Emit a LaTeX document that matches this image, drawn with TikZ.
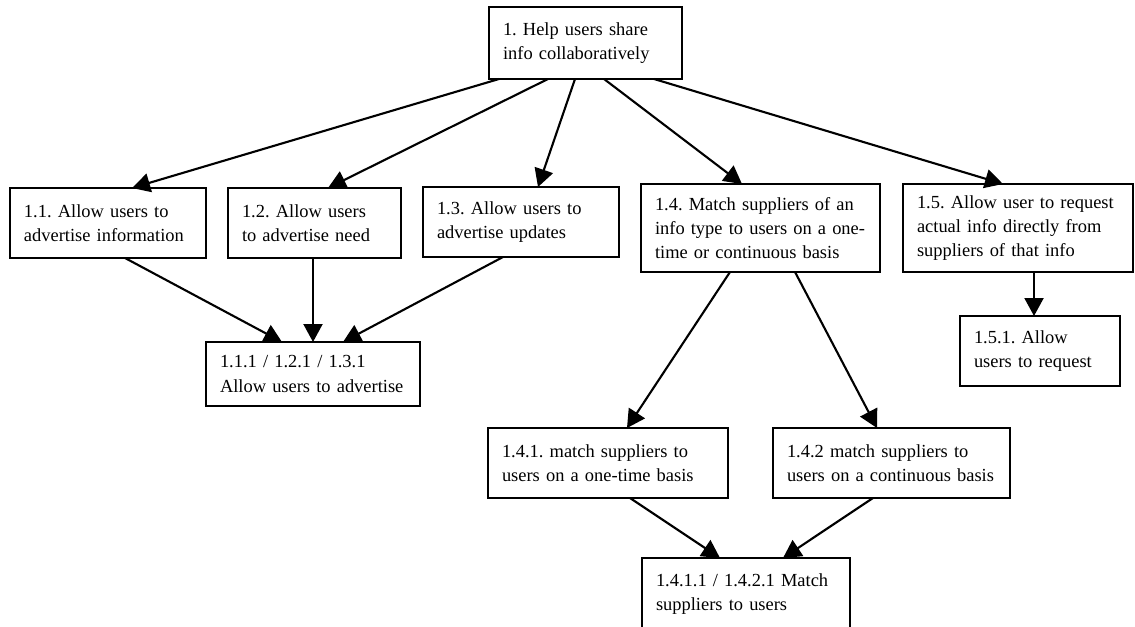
\documentclass[tikz,border=0pt]{standalone}
\usepackage{fontspec}
\setmainfont{Liberation Serif}
\usepackage{tikz}
\usetikzlibrary{arrows.meta, calc}
\frenchspacing

\begin{document}
\begin{tikzpicture}[x=0.02cm, y=-0.02cm, >={Triangle[length=0.36cm, width=0.38cm]}, line width=1.2pt,
    box/.style={draw, anchor=north west, align=left, outer sep=0pt, inner xsep=0.28cm, inner ysep=0pt,
      font=\fontsize{10.5}{13.8}\selectfont}]
    \useasboundingbox (0,0) rectangle (1135,626);
    \fill[white] (0,0) rectangle (1135,626);
    \clip (0,0) rectangle (1135,626);

    \node[box, minimum width=3.86cm, minimum height=1.44cm, text width=3.30cm] (top) at (489,7)
      {1. Help users share\\info collaboratively};

    \node[box, minimum width=3.92cm, minimum height=1.40cm, text width=3.36cm] (a11) at (10,188)
      {1.1. Allow users to\\advertise information};
    \node[box, minimum width=3.46cm, minimum height=1.40cm, text width=2.90cm] (a12) at (228,188)
      {1.2. Allow users\\to advertise need};
    \node[box, minimum width=3.92cm, minimum height=1.40cm, text width=3.36cm] (a13) at (423,187)
      {1.3. Allow users to\\advertise updates};
    \node[box, minimum width=4.78cm, minimum height=1.76cm, text width=4.22cm] (a14) at (641,184)
      {1.4. Match suppliers of an\\info type to users on a one-\\time or continuous basis};
    \node[box, minimum width=4.60cm, minimum height=1.76cm, text width=4.04cm] (a15) at (903,184)
      {1.5. Allow user to request\\actual info directly from\\suppliers of that info};

    \node[box, minimum width=4.28cm, minimum height=1.28cm, text width=3.72cm] (a111) at (206,342)
      {1.1.1 / 1.2.1 / 1.3.1\\Allow users to advertise};
    \node[box, minimum width=3.20cm, minimum height=1.40cm, text width=2.64cm] (a151) at (960,316)
      {1.5.1. Allow\\users to request};

    \node[box, minimum width=4.80cm, minimum height=1.40cm, text width=4.24cm] (a141) at (488,428)
      {1.4.1. match suppliers to\\users on a one-time basis};
    \node[box, minimum width=4.74cm, minimum height=1.40cm, text width=4.18cm] (a142) at (773,428)
      {1.4.2 match suppliers to\\users on a continuous basis};

    \node[box, minimum width=4.16cm, minimum height=1.44cm, text width=3.60cm] (a1411) at (642,558)
      {1.4.1.1 / 1.4.2.1 Match\\suppliers to users};

    \draw[->] ($(top.south west)+(10,0)$) -- ($(a11.north west)+(122,0)$);
    \draw[->] ($(top.south west)+(59,0)$) -- ($(a12.north west)+(100,0)$);
    \draw[->] ($(top.south west)+(86,0)$) -- ($(a13.north west)+(115,0)$);
    \draw[->] ($(top.south west)+(115,0)$) -- ($(a14.north west)+(101,0)$);
    \draw[->] ($(top.south west)+(165,0)$) -- ($(a15.north west)+(100,0)$);

    \draw[->] ($(a11.south west)+(115,0)$) -- ($(a111.north west)+(76,0)$);
    \draw[->] ($(a12.south west)+(85,0)$) -- ($(a111.north west)+(107,0)$);
    \draw[->] ($(a13.south west)+(80,0)$) -- ($(a111.north west)+(137,0)$);

    \draw[->] ($(a14.south west)+(89,0)$) -- ($(a141.north west)+(139,0)$);
    \draw[->] ($(a14.south west)+(154,0)$) -- ($(a142.north west)+(104,0)$);
    \draw[->] ($(a15.south west)+(131,0)$) -- ($(a151.north west)+(74,0)$);

    \draw[->] ($(a141.south west)+(142,0)$) -- ($(a1411.north west)+(78,0)$);
    \draw[->] ($(a142.south west)+(100,0)$) -- ($(a1411.north west)+(141,0)$);
\end{tikzpicture}
\end{document}
